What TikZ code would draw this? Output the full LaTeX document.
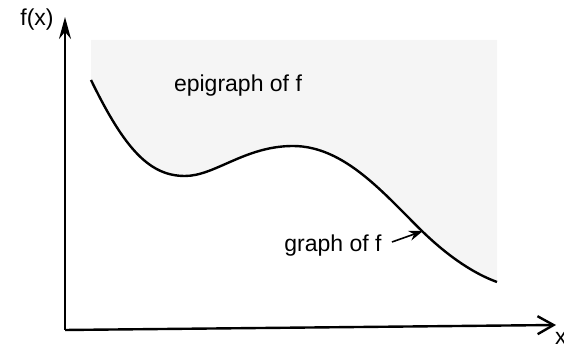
\documentclass[tikz,border=0pt]{standalone}
\usepackage{fontspec}
\setmainfont{Liberation Sans}
\usetikzlibrary{arrows.meta}

\begin{document}
\begin{tikzpicture}[x=0.5pt, y=-0.5pt,
    lbl/.style={font=\fontsize{11.5}{14}\selectfont, inner sep=0pt},
    axis/.style={line width=1.2pt}]
    \useasboundingbox (0,0) rectangle (564,346);

    % 1. Epigrafo (zona ombreggiata sopra la curva)
    \fill[black!4] (91,40) -- (91,80) .. controls (125,150) and (150,176) .. (185,176)
        .. controls (215,176) and (245,146) .. (293,146)
        .. controls (345,146) and (385,195) .. (423,232)
        .. controls (450,258) and (475,274) .. (497,282) -- (497,40) -- cycle;

    % 2. Assi
    \coordinate (O) at (65,330);
    \coordinate (ytop) at (65,17);
    \coordinate (xend) at (556,325);
    \draw[axis, -{Stealth[length=11pt, width=6pt]}] (O) -- (ytop);
    \draw[axis, -{Straight Barb[length=8pt, width=9pt]}] (O) -- (xend);
    \node[lbl] (fx) at (37,20) {f(x)};
    \node[lbl] (xlab) at (561,338) {x};

    % 3. Grafico di f
    \draw[line width=1.2pt] (91,80) .. controls (125,150) and (150,176) .. (185,176)
        .. controls (215,176) and (245,146) .. (293,146)
        .. controls (345,146) and (385,195) .. (423,232)
        .. controls (450,258) and (475,274) .. (497,282);

    % 4. Etichette
    \node[lbl] (epi) at (238,86) {epigraph of f};
    \node[lbl] (graph) at (333,246) {graph of f};
    \coordinate (tip) at (423,231);
    \draw[line width=0.8pt, -{Stealth[length=7pt, width=5pt]}] (graph.east) ++(10,-4) coordinate (tail) (tail) -- (tip);

\end{tikzpicture}
\end{document}
